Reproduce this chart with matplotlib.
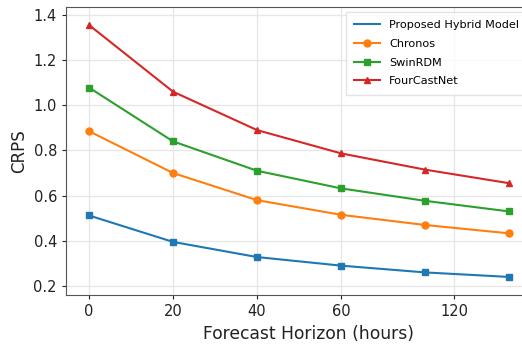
import matplotlib
matplotlib.use("Agg")
import matplotlib.pyplot as plt

x_pos = [0, 20, 40, 60, 80, 100]
tick_pos = [0, 20, 40, 60, 87]
tick_labels = ["0", "20", "40", "60", "120"]

hybrid = [0.512, 0.395, 0.328, 0.290, 0.260, 0.240]
chronos = [0.885, 0.700, 0.580, 0.515, 0.470, 0.433]
swinrdm = [1.078, 0.840, 0.710, 0.632, 0.577, 0.530]
fourcast = [1.355, 1.060, 0.890, 0.787, 0.715, 0.655]

plt.rcParams['font.family'] = ['DejaVu Sans']
fig = plt.figure(figsize=(5.22, 3.48), dpi=100)
W, H = 522, 348
ax = fig.add_axes([66 / W, 1 - 295 / H, (551 - 66) / W, (295 - 7) / H])

ax.plot(x_pos, hybrid, color='#1f77b4', lw=1.5, label='Proposed Hybrid Model')
ax.plot(x_pos, hybrid, color='#1f77b4', lw=0, marker='s', ms=5)
ax.plot(x_pos, chronos, color='#ff7f0e', lw=1.5, marker='o', ms=5, label='Chronos')
ax.plot(x_pos, swinrdm, color='#2ca02c', lw=1.5, marker='s', ms=5, label='SwinRDM')
ax.plot(x_pos, fourcast, color='#d62728', lw=1.5, marker='^', ms=5, label='FourCastNet')

ax.set_xlim(-5.5, 110)
ax.set_ylim(0.16, 1.435)
ax.set_xticks(tick_pos)
ax.set_xticklabels(tick_labels)
ax.set_yticks([0.2, 0.4, 0.6, 0.8, 1.0, 1.2, 1.4])
ax.tick_params(labelsize=10.5, colors='#222222', length=3)
ax.grid(True, color='#e6e6e6', lw=0.9)
for s in ax.spines.values():
    s.set_color('#555555')
ax.set_xlabel('Forecast Horizon (hours)', fontsize=12.3, color='#222222')
ax.set_ylabel('CRPS', fontsize=12, color='#222222')

leg = fig.legend(loc='upper left', bbox_to_anchor=(346 / W, 1 - 12 / H), fontsize=8.1,
                 frameon=True, fancybox=False, edgecolor='#dddddd', handlelength=2.3,
                 handletextpad=0.8, labelspacing=0.78, borderpad=0.72, borderaxespad=0)

fig.savefig('out.png', dpi=100)
